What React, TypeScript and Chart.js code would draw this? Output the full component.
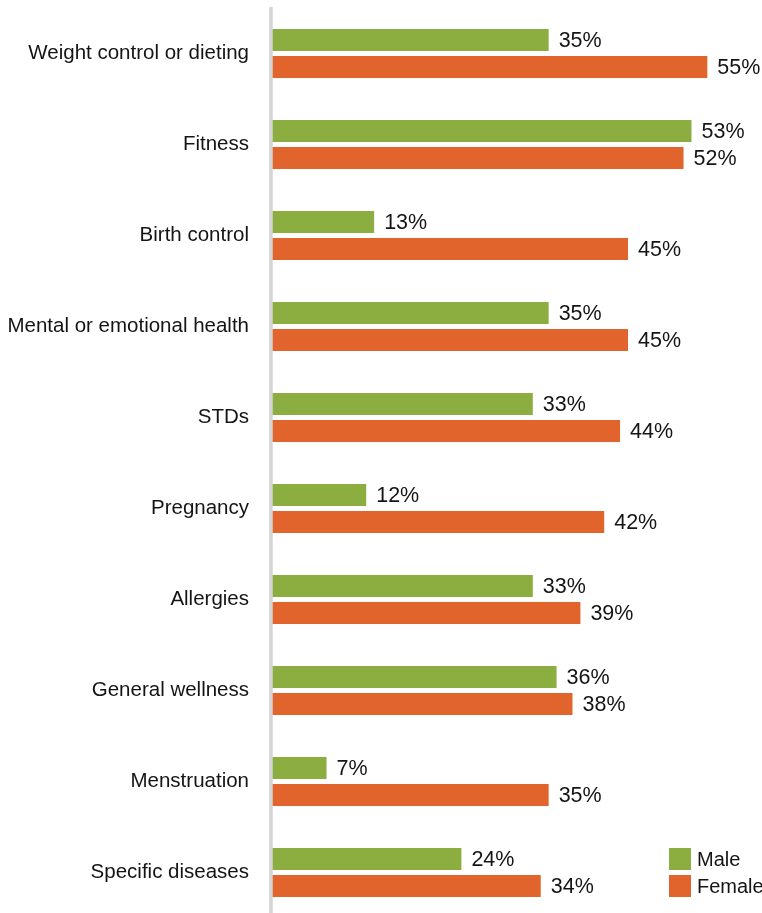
import React, { useEffect, useRef } from "react";
import { Chart, registerables } from "chart.js";

Chart.register(...registerables);

const categories = [
  "Weight control or dieting",
  "Fitness",
  "Birth control",
  "Mental or emotional health",
  "STDs",
  "Pregnancy",
  "Allergies",
  "General wellness",
  "Menstruation",
  "Specific diseases",
];
const maleValues = [35, 53, 13, 35, 33, 12, 33, 36, 7, 24];
const femaleValues = [55, 52, 45, 45, 44, 42, 39, 38, 35, 34];
const seriesNames = ["Male", "Female"];

const GREEN = "#8cae40";
const ORANGE = "#e0642b";
const FONT = "'Liberation Sans', Arial, Helvetica, sans-serif";
const TEXT = "#141414";

const valueLabels = {
  id: "valueLabels",
  afterDatasetsDraw(chart: any) {
    const ctx = chart.ctx;
    ctx.save();
    ctx.font = `21.5px ${FONT}`;
    ctx.fillStyle = TEXT;
    ctx.textAlign = "left";
    ctx.textBaseline = "middle";
    chart.data.datasets.forEach((ds: any, di: number) => {
      const meta = chart.getDatasetMeta(di);
      meta.data.forEach((el: any, i: number) => {
        ctx.fillText(`${ds.data[i]}%`, el.x + 10, el.y + 1);
      });
    });
    ctx.restore();
  },
};

const axisLine = {
  id: "axisLine",
  afterDatasetsDraw(chart: any) {
    const { ctx, chartArea } = chart;
    ctx.save();
    ctx.strokeStyle = "#d4d4d4";
    ctx.lineWidth = 3.5;
    ctx.beginPath();
    ctx.moveTo(chartArea.left, chartArea.top - 1);
    ctx.lineTo(chartArea.left, chartArea.bottom);
    ctx.stroke();
    ctx.restore();
  },
};

const sideLegend = {
  id: "sideLegend",
  afterDatasetsDraw(chart: any) {
    const ctx = chart.ctx;
    const last = chart.data.labels.length - 1;
    ctx.save();
    ctx.font = `20px ${FONT}`;
    ctx.textAlign = "left";
    ctx.textBaseline = "middle";
    chart.data.datasets.forEach((ds: any, di: number) => {
      const el = chart.getDatasetMeta(di).data[last];
      const y = el.y;
      ctx.fillStyle = ds.backgroundColor;
      ctx.fillRect(669, y - 11, 22, 22);
      ctx.fillStyle = TEXT;
      ctx.fillText(ds.label, 697, y + 1);
    });
    ctx.restore();
  },
};

export default function App() {
  const ref = useRef<HTMLCanvasElement>(null);
  useEffect(() => {
    if (!ref.current) return;
    const chart = new Chart(ref.current, {
      type: "bar",
      data: {
        labels: categories,
        datasets: [
          {
            label: seriesNames[0],
            data: maleValues,
            backgroundColor: GREEN,
            categoryPercentage: 54 / 91,
            barPercentage: 22 / 27,
          },
          {
            label: seriesNames[1],
            data: femaleValues,
            backgroundColor: ORANGE,
            categoryPercentage: 54 / 91,
            barPercentage: 22 / 27,
          },
        ],
      },
      options: {
        indexAxis: "y",
        animation: false,
        responsive: false,
        devicePixelRatio: 1,
        layout: { padding: { top: 8, right: 15, left: 0, bottom: 0 } },
        plugins: {
          legend: { display: false },
          tooltip: { enabled: false },
        },
        scales: {
          x: { display: false, min: 0, max: 60 },
          y: {
            grid: { display: false, drawTicks: false },
            border: { display: false },
            ticks: {
              padding: 22,
              color: TEXT,
              font: { family: FONT, size: 20.5 },
            },
            afterFit(scale: any) {
              scale.width = 271;
              scale.paddingTop = 0;
              scale.paddingBottom = 0;
            },
          },
        },
      },
      plugins: [valueLabels, axisLine, sideLegend],
    });
    return () => chart.destroy();
  }, []);
  return (
    <div style={{ position: "fixed", left: 0, top: 0, width: 762, height: 918, background: "#fff" }}>
      <canvas ref={ref} width={762} height={918} style={{ width: 762, height: 918, display: "block" }} />
    </div>
  );
}
